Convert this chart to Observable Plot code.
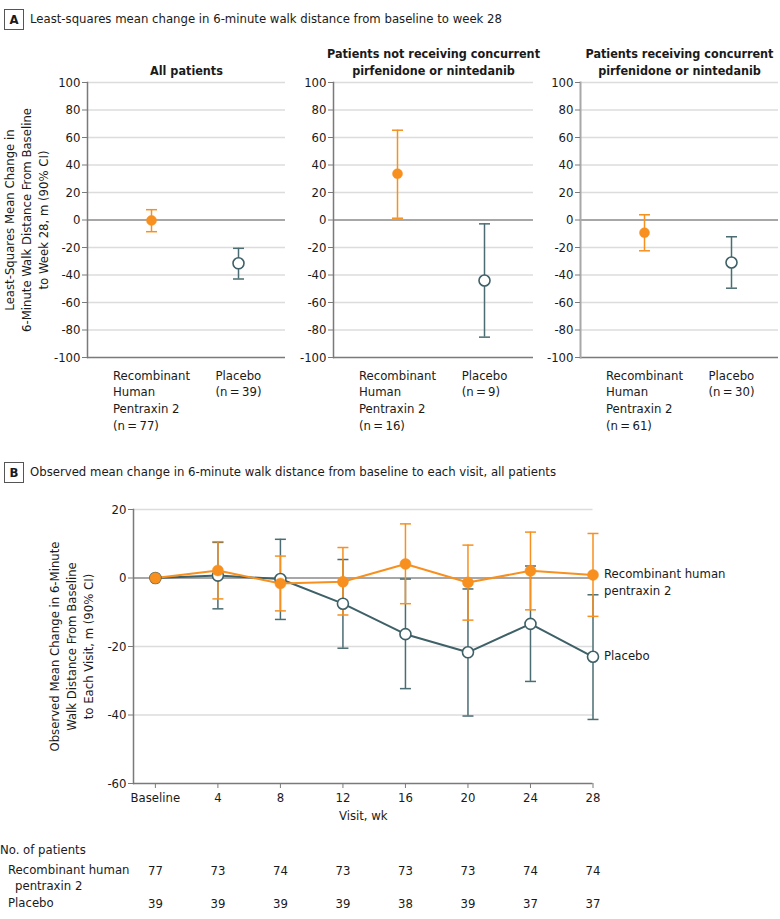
<!DOCTYPE html>
<html><head><meta charset="utf-8">
<script src="https://cdn.jsdelivr.net/npm/d3@7"></script>
<script src="https://cdn.jsdelivr.net/npm/@observablehq/plot@0.6"></script>
<style>
body{margin:0;background:#fff;}
#root{position:relative;width:780px;height:919px;overflow:hidden;font-family:"DejaVu Sans Condensed",sans-serif;font-size:13px;color:#1a1a1a;}
.abs{position:absolute;white-space:nowrap;line-height:17px;}
.box{position:absolute;width:18px;height:19px;border:1px solid #555;font-weight:bold;text-align:center;line-height:19px;font-size:13px;}
svg{overflow:visible;}
</style></head><body><div id="root"></div>
<script>
// ---------- Panel A data ----------
const panelTitles = ["All patients", "Patients not receiving concurrent\npirfenidone or nintedanib", "Patients receiving concurrent\npirfenidone or nintedanib"];
const armsA = ["Recombinant\nHuman\nPentraxin 2", "Placebo"];
const nRhA = [77, 16, 61];
const nPlA = [39, 9, 30];
const rhMeanA = [-0.3, 33.6, -9.3];
const rhLowA = [-8.5, 1.3, -22.4];
const rhHighA = [7.5, 65.3, 3.8];
const plMeanA = [-31.5, -44.0, -30.9];
const plLowA = [-42.9, -85.2, -49.6];
const plHighA = [-20.6, -2.8, -12.2];
const yTicksA = [100, 80, 60, 40, 20, 0, -20, -40, -60, -80, -100];
const titleA = "Least-squares mean change in 6-minute walk distance from baseline to week 28";
const yLabelA = "Least-Squares Mean Change in\n6-Minute Walk Distance From Baseline\nto Week 28, m (90% CI)";

// ---------- Panel B data ----------
const titleB = "Observed mean change in 6-minute walk distance from baseline to each visit, all patients";
const weeks = [0, 4, 8, 12, 16, 20, 24, 28];
const weekLabels = ["Baseline", "4", "8", "12", "16", "20", "24", "28"];
const rhMean = [0, 2.2, -1.6, -1.1, 4.1, -1.3, 2.1, 0.9];
const rhLow = [null, -6.1, -9.6, -10.8, -7.5, -12.3, -9.3, -11.2];
const rhHigh = [null, 10.6, 6.4, 8.9, 15.8, 9.6, 13.4, 13.0];
const plMean = [0, 0.7, -0.3, -7.5, -16.4, -21.7, -13.4, -23.0];
const plLow = [null, -9.0, -12.1, -20.5, -32.3, -40.3, -30.2, -41.3];
const plHigh = [null, 10.4, 11.3, 5.4, -0.3, -3.2, 3.5, -4.9];
const yTicksB = [20, 0, -20, -40, -60];
const seriesLabels = ["Recombinant human\npentraxin 2", "Placebo"];
const yLabelB = "Observed Mean Change in 6-Minute\nWalk Distance From Baseline\nto Each Visit, m (90% CI)";
const xLabelB = "Visit, wk";
const nRh = [77, 73, 74, 73, 73, 73, 74, 74];
const nPl = [39, 39, 39, 39, 38, 39, 37, 37];
const tableHeader = "No. of patients";
const tableArms = ["Recombinant human", "pentraxin 2", "Placebo"];

// ---------- styles ----------
const FONT = '"DejaVu Sans Condensed",sans-serif';
const FS = 13;
const ORANGE = "#F7901E";
const TEAL = "#3E6067";
const TEAL_BAR = "#4A6C72";
const GRID = "#dcdcdc";
const AXIS = "#7a7a7a";
const TXT = "#1a1a1a";
const style = {fontFamily: FONT, fontSize: FS + "px", color: TXT, background: "transparent", overflow: "visible"};
const cap = {draw(context, size) { const w = Math.sqrt(size / Math.PI); context.moveTo(-w, 0); context.lineTo(w, 0); }};

const ctx = document.createElement("canvas").getContext("2d");
ctx.font = `${FS}px ${FONT}`;
const halfWidest = s => d3.max(s.split("\n"), l => ctx.measureText(l).width) / 2;

const root = document.getElementById("root");
function place(node, left, top) {
  node.style.position = "absolute"; node.style.left = left + "px"; node.style.top = top + "px";
  root.appendChild(node);
}
function html(cls, text, left, top, extra = "") {
  const d = document.createElement("div"); d.className = cls; d.textContent = text;
  d.style.cssText += `left:${left}px;top:${top}px;` + extra; root.appendChild(d); return d;
}

// ---------- Panel A ----------
html("box", "A", 4, 9);
html("abs", titleA, 30, 10);

const geomA = [
  {left: 0, width: 290, ml: 87, mr: 5},
  {left: 290, width: 245, ml: 43, mr: 2},
  {left: 537, width: 243, ml: 43, mr: 2}
];
geomA.forEach((g, i) => {
  const labels = [`${armsA[0]}\n(n\u2009=\u2009${nRhA[i]})`, `${armsA[1]}\n(n\u2009=\u2009${nPlA[i]})`];
  const rows = [
    {arm: armsA[0], mean: rhMeanA[i], lo: rhLowA[i], hi: rhHighA[i], label: labels[0]},
    {arm: armsA[1], mean: plMeanA[i], lo: plLowA[i], hi: plHighA[i], label: labels[1]}
  ];
  const marks = [
    Plot.gridY(yTicksA.filter(d => d !== 0 && d !== -100), {stroke: GRID, strokeOpacity: 1, strokeWidth: 1.5}),
    Plot.ruleY([0], {stroke: "#8a8a8a", strokeWidth: 1.5}),
    Plot.ruleY([-100], {stroke: AXIS, strokeWidth: 1.5}),
    Plot.frame({anchor: "left", stroke: i === 2 ? "#a8a8a8" : AXIS, strokeWidth: i === 2 ? 2 : 1.5}),
    Plot.axisY({ticks: yTicksA, tickSize: 5, tickPadding: 2, tickFormat: d => String(d), label: null, stroke: AXIS, fill: TXT, fontSize: FS}),
    Plot.ruleX(rows, {x: "arm", y1: "lo", y2: "hi", stroke: "arm", strokeWidth: 1.5}),
    Plot.dot(rows, {x: "arm", y: "lo", symbol: cap, r: 5.5, stroke: "arm", fill: "none", strokeWidth: 1.5}),
    Plot.dot(rows, {x: "arm", y: "hi", symbol: cap, r: 5.5, stroke: "arm", fill: "none", strokeWidth: 1.5}),
    Plot.dot(rows.slice(0, 1), {x: "arm", y: "mean", r: 5, fill: ORANGE, stroke: ORANGE, strokeWidth: 0.5}),
    Plot.dot(rows.slice(1), {x: "arm", y: "mean", r: 5.5, fill: "white", stroke: TEAL, strokeWidth: 1.6}),
    Plot.text([panelTitles[i]], {frameAnchor: "top", dy: -8, lineAnchor: "bottom", fontWeight: "bold", fontSize: 12.5, lineHeight: 1.35, fill: TXT}),
    ...rows.map(r => Plot.text([r], {x: "arm", frameAnchor: "bottom", text: "label", textAnchor: "start", lineAnchor: "top", dx: -halfWidest(r.label), dy: 10, lineHeight: 1.3, fontSize: FS, fill: TXT}))
  ];
  if (i === 0) marks.push(Plot.text([yLabelA], {frameAnchor: "left", rotate: -90, textAnchor: "middle", lineAnchor: "top", dx: -85, lineHeight: 1.28, fontSize: FS, fill: TXT}));
  const p = Plot.plot({
    width: g.width, height: 440, marginLeft: g.ml, marginRight: g.mr, marginTop: 82, marginBottom: 83,
    style,
    x: {type: "point", domain: armsA, range: [g.ml + 64, g.ml + 151], padding: 0, axis: null},
    y: {domain: [-100, 100], axis: null},
    color: {domain: armsA, range: [ORANGE, TEAL_BAR]},
    marks
  });
  place(p, g.left, 0);
});

// ---------- Panel B ----------
html("box", "B", 4, 462);
html("abs", titleB, 30, 463);

const rhRows = weeks.map((w, k) => ({w, mean: rhMean[k], lo: rhLow[k], hi: rhHigh[k]}));
const plRows = weeks.map((w, k) => ({w, mean: plMean[k], lo: plLow[k], hi: plHigh[k]}));
const bars = (rows, color) => [
  Plot.ruleX(rows.filter(d => d.lo != null), {x: "w", y1: "lo", y2: "hi", stroke: color, strokeWidth: 1.5}),
  Plot.dot(rows.filter(d => d.lo != null), {x: "w", y: "lo", symbol: cap, r: 5.5, stroke: color, fill: "none", strokeWidth: 1.5}),
  Plot.dot(rows.filter(d => d.lo != null), {x: "w", y: "hi", symbol: cap, r: 5.5, stroke: color, fill: "none", strokeWidth: 1.5})
];
const last = weeks.length - 1;
const endLabels = [
  {w: weeks[last], y: rhMean[last], label: seriesLabels[0]},
  {w: weeks[last], y: plMean[last], label: seriesLabels[1]}
];
const pB = Plot.plot({
  width: 780, height: 400, marginLeft: 133, marginRight: 187.5, marginTop: 69, marginBottom: 57,
  style,
  x: {domain: [-1.4, 28], axis: null},
  y: {domain: [-60, 20], axis: null},
  marks: [
    Plot.gridY(yTicksB.filter(d => d !== 0 && d !== -60), {stroke: GRID, strokeOpacity: 1, strokeWidth: 1.5}),
    Plot.ruleY([0], {stroke: "#8a8a8a", strokeWidth: 1.5}),
    Plot.ruleY([-60], {stroke: AXIS, strokeWidth: 1.5}),
    Plot.frame({anchor: "left", stroke: AXIS, strokeWidth: 1.5}),
    Plot.axisY({ticks: yTicksB, tickSize: 5, tickPadding: 2, tickFormat: d => String(d), label: null, stroke: AXIS, fill: TXT, fontSize: FS}),
    Plot.axisX({ticks: weeks, tickSize: 5, tickPadding: 4, tickFormat: d => weekLabels[weeks.indexOf(d)], label: null, stroke: AXIS, fill: TXT, fontSize: FS}),
    ...bars(plRows, TEAL_BAR),
    ...bars(rhRows, ORANGE),
    Plot.line(plRows, {x: "w", y: "mean", stroke: TEAL, strokeWidth: 2}),
    Plot.line(rhRows, {x: "w", y: "mean", stroke: ORANGE, strokeWidth: 2}),
    Plot.dot(plRows, {x: "w", y: "mean", r: 5.5, fill: "white", stroke: TEAL, strokeWidth: 1.6}),
    Plot.dot(rhRows, {x: "w", y: "mean", r: 5.5, fill: ORANGE, stroke: ORANGE, strokeWidth: 0.5}),
    Plot.text(endLabels, {x: "w", y: "y", text: "label", textAnchor: "start", lineAnchor: "top", dx: 11, dy: -9, lineHeight: 1.3, fontSize: FS, fill: TXT}),
    Plot.text([xLabelB], {frameAnchor: "bottom", lineAnchor: "middle", dy: 32, fontSize: FS, fill: TXT}),
    Plot.text([yLabelB], {frameAnchor: "left", rotate: -90, textAnchor: "middle", lineAnchor: "top", dx: -86, lineHeight: 1.28, fontSize: FS, fill: TXT})
  ]
});
place(pB, 0, 440);

// ---------- Patient table ----------
html("abs", tableHeader, 0, 841);
html("abs", tableArms[0], 8, 861);
html("abs", tableArms[1], 15, 877);
html("abs", tableArms[2], 8, 894);
const rowKeys = ["rh", "pl"];
const pT = Plot.plot({
  width: 780, height: 79, marginLeft: 0, marginRight: 0, marginTop: 0, marginBottom: 0,
  style,
  x: {domain: [-1.4, 28], range: [133, 592.5], axis: null},
  y: {type: "point", domain: rowKeys, range: [30, 63], padding: 0, axis: null},
  marks: [
    Plot.text(weeks, {x: d => d, y: () => "rh", text: (d, k) => String(nRh[k]), fontSize: FS, fill: TXT}),
    Plot.text(weeks, {x: d => d, y: () => "pl", text: (d, k) => String(nPl[k]), fontSize: FS, fill: TXT})
  ]
});
place(pT, 0, 840);
</script></body></html>
